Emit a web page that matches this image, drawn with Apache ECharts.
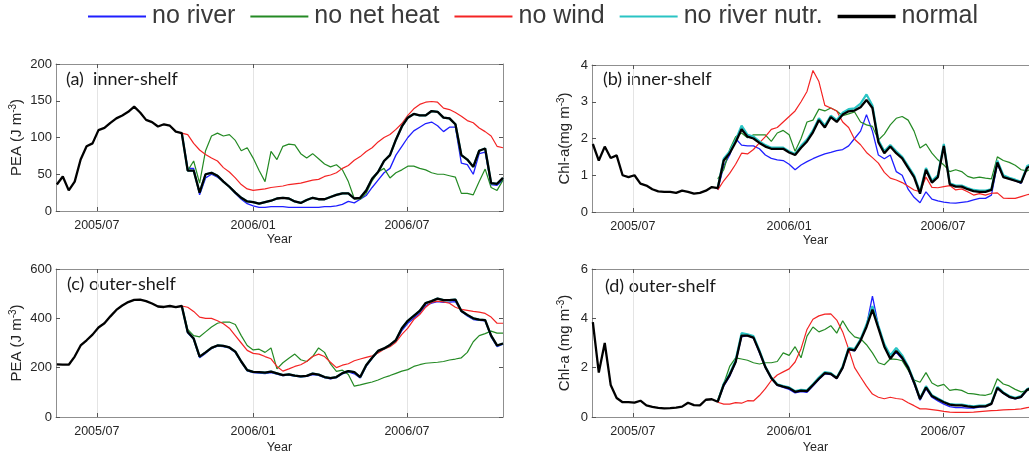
<!DOCTYPE html>
<html><head><meta charset="utf-8">
<script src="https://cdn.jsdelivr.net/npm/echarts@6/dist/echarts.min.js"></script>
<style>html,body{margin:0;padding:0;background:#fff}#c{width:1029px;height:453px}</style>
</head><body><div id="c"></div><script>
// weekly sample dates (x values)
const dates = ['2005-05-15','2005-05-22','2005-05-29','2005-06-05','2005-06-12','2005-06-19','2005-06-26','2005-07-03','2005-07-10','2005-07-17','2005-07-24','2005-07-31','2005-08-07','2005-08-14','2005-08-21','2005-08-28','2005-09-04','2005-09-11','2005-09-18','2005-09-25','2005-10-02','2005-10-09','2005-10-16','2005-10-23','2005-10-30','2005-11-06','2005-11-13','2005-11-20','2005-11-27','2005-12-04','2005-12-11','2005-12-18','2005-12-25','2006-01-01','2006-01-08','2006-01-15','2006-01-22','2006-01-29','2006-02-05','2006-02-12','2006-02-19','2006-02-26','2006-03-05','2006-03-12','2006-03-19','2006-03-26','2006-04-02','2006-04-09','2006-04-16','2006-04-23','2006-04-30','2006-05-07','2006-05-14','2006-05-21','2006-05-28','2006-06-04','2006-06-11','2006-06-18','2006-06-25','2006-07-02','2006-07-09','2006-07-16','2006-07-23','2006-07-30','2006-08-06','2006-08-13','2006-08-20','2006-08-27','2006-09-03','2006-09-10','2006-09-17','2006-09-24','2006-10-01','2006-10-08','2006-10-15','2006-10-22'];
const branchIndex = 21; // experiments start at 2005-10-09
const axisStart = '2005-05-14';
const axisEnd = '2006-10-22';
const tickDates = ['2005-07-01','2006-01-01','2006-07-01'];
const tickLabels = ['2005/07','2006/01','2006/07'];
const seriesNames = ['no river','no net heat','no wind','no river nutr.','normal'];

// (a) PEA inner-shelf
const peaInnerNormal = [36,47,28,40,70,88,92,110,113,120,126,130,135,142,134,124,121,115,118,116,108,
 106,55,55,25,50,52,48,40,33,25,18,13,12,10,12,14,17,18,17,13,11,15,18,16,16,19,22,24,24,17,18,28,44,53,68,76,97,115,127,132,130,130,136,135,127,126,118,76,70,60,82,85,38,37,45];
const peaInnerNoRiver = [106,58,58,22,45,50,46,40,33,24,16,10,7,5,5,6,6,6,5,5,5,5,5,5,6,6,7,9,13,11,16,21,32,42,52,58,76,88,100,109,114,119,121,116,108,114,114,65,63,50,78,80,36,35,42];
const peaInnerNoHeat = [106,55,68,38,82,102,106,102,104,96,82,86,72,55,40,81,70,88,91,90,78,72,78,71,64,60,63,56,40,17,16,24,41,53,58,45,52,56,61,61,58,56,52,50,50,48,46,24,24,22,40,57,32,28,42];
const peaInnerNoWind = [106,104,92,83,77,72,68,59,53,45,36,30,28,29,30,32,33,34,36,37,38,40,42,43,47,49,52,58,62,69,74,81,86,94,100,104,111,119,130,139,145,148,149,148,140,138,134,129,123,120,113,108,102,88,86];
const peaInnerNoNutr = [106,55,55,25,50,52,48,40,33,25,18,13,12,10,12,14,17,18,17,13,11,15,18,16,16,19,22,24,24,17,18,28,44,53,68,76,97,115,127,132,130,130,136,135,127,126,118,76,70,60,82,85,38,37,45];

// (b) Chl-a inner-shelf
const chlInnerNormal = [1.85,1.4,1.78,1.47,1.54,1.0,0.95,1.0,0.77,0.72,0.62,0.56,0.55,0.55,0.52,0.58,0.55,0.5,0.52,0.58,0.68,
 0.65,1.4,1.6,1.9,2.25,2.05,2.0,1.88,1.78,1.72,1.72,1.72,1.62,1.55,1.75,1.92,2.17,2.5,2.3,2.58,2.45,2.65,2.74,2.76,2.85,3.05,2.83,1.9,1.6,1.78,1.6,1.46,1.2,0.95,0.5,1.15,0.8,0.95,1.8,0.75,0.69,0.69,0.62,0.57,0.55,0.55,0.6,1.35,0.95,0.9,0.85,0.8,1.2,1.3,1.3];
const chlInnerNoRiver = [0.6,1.25,1.55,2.0,1.82,1.8,1.8,1.72,1.55,1.46,1.42,1.4,1.3,1.15,1.28,1.37,1.45,1.52,1.58,1.62,1.67,1.7,1.8,2.0,2.2,2.65,2.2,1.55,1.45,1.55,1.1,1.0,0.62,0.4,0.25,0.55,0.35,0.3,0.27,0.25,0.24,0.26,0.28,0.33,0.37,0.37,0.46,1.3,0.95,0.9,0.85,0.78,1.2,1.28,1.28];
const chlInnerNoHeat = [0.9,1.15,1.7,2.05,2.15,2.02,2.1,2.1,2.1,1.92,2.15,2.22,2.1,1.65,2.0,2.45,2.5,2.8,2.75,2.83,2.75,2.62,2.67,2.72,2.45,2.37,2.33,1.96,2.12,2.37,2.55,2.6,2.5,2.2,1.74,1.85,1.6,1.42,1.28,1.1,1.15,1.1,0.97,0.92,0.95,0.92,0.9,1.5,1.4,1.35,1.27,1.15,1.12,1.2,1.25];
const chlInnerNoWind = [0.6,0.85,1.05,1.3,1.6,1.58,1.7,1.88,2.05,2.25,2.3,2.45,2.6,2.75,3.0,3.28,3.85,3.55,2.9,2.83,2.75,2.45,2.3,1.98,1.83,1.62,1.48,1.33,1.08,0.92,0.87,0.8,0.7,0.6,0.55,0.95,0.67,0.66,0.69,0.72,0.6,0.63,0.55,0.46,0.5,0.46,0.51,0.52,0.38,0.37,0.37,0.42,0.47,0.5,0.5];
const chlInnerNoNutr = [0.66,1.45,1.65,1.95,2.35,2.1,2.05,1.92,1.82,1.75,1.75,1.75,1.65,1.58,1.8,1.97,2.22,2.55,2.35,2.62,2.5,2.7,2.8,2.82,2.95,3.2,2.9,1.95,1.65,1.82,1.65,1.5,1.25,1.0,0.55,1.2,0.85,1.0,1.85,0.78,0.72,0.72,0.65,0.6,0.58,0.58,0.62,1.4,1.0,0.93,0.88,0.82,1.25,1.33,1.33];

// (c) PEA outer-shelf
const peaOuterNormal = [213,212,212,245,290,311,334,363,380,408,434,452,466,475,476,470,460,448,446,450,445,
 450,345,318,245,262,280,290,288,282,265,225,190,183,182,180,184,177,170,173,168,165,167,176,172,162,158,162,178,186,182,162,210,240,268,278,292,312,360,390,410,430,462,470,480,474,474,476,430,414,400,395,393,330,290,298];
const peaOuterNoRiver = [450,340,315,240,258,278,287,285,280,262,222,187,180,178,176,180,174,168,170,166,163,165,172,169,160,155,160,175,183,175,158,205,238,266,276,290,308,350,380,400,422,452,462,468,465,466,468,428,410,395,392,390,325,285,295];
const peaOuterNoHeat = [450,355,330,325,345,365,380,385,385,375,330,290,272,275,262,280,195,220,238,255,232,225,245,280,262,215,185,190,172,125,130,136,142,150,160,168,177,186,192,205,212,218,220,222,225,231,235,240,262,305,330,338,348,340,340];
const peaOuterNoWind = [450,445,428,405,400,400,390,378,360,330,300,270,258,255,245,236,205,186,195,205,212,225,245,255,245,222,200,210,216,228,235,242,248,260,275,285,303,335,360,395,415,445,465,470,467,461,445,436,432,428,425,420,405,380,380];
const peaOuterNoNutr = [450,345,318,245,262,280,290,288,282,265,225,190,183,182,180,184,177,170,173,168,165,167,176,172,162,158,162,178,186,182,162,210,240,268,278,292,312,360,390,410,430,462,470,480,474,474,476,430,414,400,395,393,330,290,298];

// (d) Chl-a outer-shelf
const chlOuterNormal = [3.85,1.8,3.0,1.3,0.77,0.6,0.6,0.58,0.66,0.47,0.41,0.37,0.35,0.36,0.38,0.42,0.58,0.48,0.47,0.7,0.72,
 0.62,1.3,1.7,2.23,3.3,3.3,3.22,2.65,2.02,1.58,1.3,1.23,1.17,1.02,1.07,1.05,1.3,1.55,1.78,1.75,1.57,2.0,2.75,2.7,3.1,3.65,4.35,3.6,2.85,2.36,2.68,2.4,2.0,1.4,0.73,1.2,0.85,0.72,0.6,0.5,0.47,0.47,0.43,0.4,0.43,0.43,0.53,1.18,0.97,0.82,0.75,0.82,1.1,1.2,1.2];
const chlOuterNoRiver = [0.62,1.25,1.65,2.2,3.25,3.3,3.2,2.6,2.0,1.55,1.28,1.2,1.12,0.98,1.03,1.0,1.25,1.52,1.75,1.72,1.55,1.98,2.72,2.68,3.1,3.7,4.9,3.7,2.9,2.4,2.62,2.35,1.95,1.35,0.68,1.15,0.8,0.65,0.52,0.42,0.38,0.38,0.36,0.36,0.4,0.42,0.52,1.15,0.95,0.8,0.73,0.8,1.08,1.18,1.18];
const chlOuterNoHeat = [0.7,1.35,2.05,2.4,2.35,2.3,2.2,2.15,2.2,2.2,2.25,2.6,2.5,2.85,2.4,3.28,3.65,3.45,3.55,3.7,3.4,3.9,3.5,3.25,3.18,2.93,2.6,2.2,2.12,2.36,2.34,2.28,1.9,1.5,1.41,1.8,1.38,1.25,1.32,1.08,1.12,1.08,0.96,0.94,0.9,0.88,0.95,1.55,1.34,1.26,1.12,1.02,1.07,1.15,1.2];
const chlOuterNoWind = [0.6,0.52,0.52,0.58,0.56,0.66,0.65,0.87,1.15,1.48,1.7,1.83,1.95,2.23,2.77,3.55,3.96,4.1,4.17,4.18,3.93,3.45,2.75,2.0,1.62,1.25,0.93,0.8,0.74,0.8,0.75,0.72,0.58,0.46,0.33,0.33,0.3,0.27,0.23,0.2,0.19,0.19,0.19,0.2,0.22,0.24,0.26,0.27,0.29,0.3,0.31,0.33,0.38,0.4,0.4];
const chlOuterNoNutr = [0.62,1.35,1.75,2.3,3.4,3.35,3.28,2.7,2.05,1.6,1.33,1.25,1.2,1.05,1.1,1.08,1.33,1.6,1.82,1.78,1.6,2.05,2.8,2.75,3.15,3.75,4.5,3.7,2.95,2.5,2.8,2.5,2.05,1.45,0.75,1.25,0.88,0.75,0.62,0.52,0.5,0.5,0.46,0.43,0.46,0.46,0.56,1.22,1.0,0.85,0.78,0.85,1.13,1.23,1.23];

const panels = [
  {label:'(a)  inner-shelf', yName:['PEA (J m','-3',')'], yMax:200, yInt:50,
   grid:{left:56, top:64, width:447, height:147}, labelPos:[66,70], nameGap:31,
   normal:peaInnerNormal, alt:[peaInnerNoRiver, peaInnerNoHeat, peaInnerNoWind, peaInnerNoNutr]},
  {label:'(b) inner-shelf', yName:['Chl-a(mg m','-3',')'], yMax:4, yInt:1,
   grid:{left:592, top:65, width:447, height:147}, labelPos:[603,70], nameGap:19,
   normal:chlInnerNormal, alt:[chlInnerNoRiver, chlInnerNoHeat, chlInnerNoWind, chlInnerNoNutr]},
  {label:'(c) outer-shelf', yName:['PEA (J m','-3',')'], yMax:600, yInt:200,
   grid:{left:56, top:269, width:447, height:148}, labelPos:[67,275], nameGap:31,
   normal:peaOuterNormal, alt:[peaOuterNoRiver, peaOuterNoHeat, peaOuterNoWind, peaOuterNoNutr]},
  {label:'(d) outer-shelf', yName:['Chl-a (mg m','-3',')'], yMax:6, yInt:2,
   grid:{left:592, top:269, width:447, height:148}, labelPos:[605,277], nameGap:19,
   normal:chlOuterNormal, alt:[chlOuterNoRiver, chlOuterNoHeat, chlOuterNoWind, chlOuterNoNutr]}
];

const colors = ['#1f1fff','#248a24','#f42424','#2ac4c4','#000000'];
const widths = [1.3,1.2,1.2,2.2,2.3];
const toT = d => Date.UTC(+d.slice(0,4), +d.slice(5,7) - 1, +d.slice(8,10));
const tickTimes = tickDates.map(toT);
const dateTimes = dates.map(toT);
const xMin = toT(axisStart);
const xMax = toT(axisEnd);
const txt = '#262626';
const boxColor = '#8f8f8f';
const font = 'Liberation Sans, Arial, sans-serif';

const grid = [], xAxis = [], yAxis = [], series = [], graphic = [];
const fmt = v => { const k = tickTimes.findIndex(t => Math.abs(t - v) < 864e5); return k >= 0 ? tickLabels[k] : ''; };
panels.forEach((p, i) => {
  grid.push(Object.assign({outerBoundsMode:'none', containLabel:false}, p.grid));
  xAxis.push({type:'value', gridIndex:i, min:xMin, max:xMax, position:'bottom', scale:true,
    axisLine:{show:true, onZero:false, lineStyle:{color:boxColor, width:1}},
    axisTick:{show:true, inside:true, length:4, customValues:tickTimes, lineStyle:{color:'#555'}},
    axisLabel:{customValues:tickTimes, formatter:fmt, color:txt, fontSize:12.5, margin:8, fontFamily:font},
    splitLine:{show:true, lineStyle:{color:'#e4e4e4', width:1}},
    name:'Year', nameLocation:'middle', nameGap:(i < 2 ? 22 : 24),
    nameTextStyle:{color:txt, fontSize:12.5, fontFamily:font}});
  xAxis.push({type:'value', gridIndex:i, min:xMin, max:xMax, position:'top', scale:true,
    axisLine:{show:true, onZero:false, lineStyle:{color:boxColor, width:1}},
    axisTick:{show:true, inside:true, length:4, customValues:tickTimes, lineStyle:{color:'#555'}},
    axisLabel:{show:false}, splitLine:{show:false}});
  yAxis.push({type:'value', gridIndex:i, min:0, max:p.yMax, interval:p.yInt, position:'left',
    axisLine:{show:true, onZero:false, lineStyle:{color:boxColor, width:1}},
    axisTick:{show:true, inside:true, length:4, lineStyle:{color:'#555'}},
    axisLabel:{color:txt, fontSize:13, margin:4, fontFamily:font},
    splitLine:{show:false},
    name:'{n|' + p.yName[0] + '}{s|' + p.yName[1] + '}{n|' + p.yName[2] + '}',
    nameLocation:'middle', nameRotate:90, nameGap:p.nameGap,
    nameTextStyle:{color:txt, fontFamily:font, fontSize:15,
      rich:{n:{fontSize:15, color:txt, fontFamily:font, lineHeight:17},
            s:{fontSize:10, color:txt, fontFamily:font, verticalAlign:'top', lineHeight:11}}}});
  yAxis.push({type:'value', gridIndex:i, min:0, max:p.yMax, interval:p.yInt, position:'right',
    axisLine:{show:true, onZero:false, lineStyle:{color:boxColor, width:1}},
    axisTick:{show:true, inside:true, length:4, lineStyle:{color:'#555'}},
    axisLabel:{show:false}, splitLine:{show:false}});
  const all = p.alt.concat([p.normal]);
  all.forEach((arr, s) => {
    const off = (s === 4) ? 0 : branchIndex;
    series.push({type:'line', name:seriesNames[s], xAxisIndex:2*i, yAxisIndex:2*i,
      data: arr.map((v, j) => [dateTimes[off + j], v]),
      symbol:'none', showSymbol:false, silent:true, z:2 + s,
      lineStyle:{color:colors[s], width:widths[s]}, itemStyle:{color:colors[s]}});
  });
  graphic.push({type:'text', left:p.labelPos[0], top:p.labelPos[1],
    style:{text:p.label, fontSize:18, fontFamily:'Lato, Open Sans, sans-serif', fill:'#1a1a1a'}});
});

const legendData = seriesNames.map((n, k) => ({name:n,
  icon: k === 4 ? 'path://M0,0H60V3.4H0Z' : 'path://M0,0H60V2H0Z'}));

const chart = echarts.init(document.getElementById('c'), null, {renderer:'canvas'});
chart.setOption({
  animation:false,
  backgroundColor:'#ffffff',
  legend:{data:legendData, top:4, left:88, padding:0, itemWidth:58, itemHeight:20, itemGap:15,
    symbolKeepAspect:true, itemStyle:{borderWidth:0},
    textStyle:{fontSize:25, color:'#3a3a3a', fontFamily:font, padding:[0,0,0,1]}},
  grid, xAxis, yAxis, series, graphic
});
</script></body></html>
